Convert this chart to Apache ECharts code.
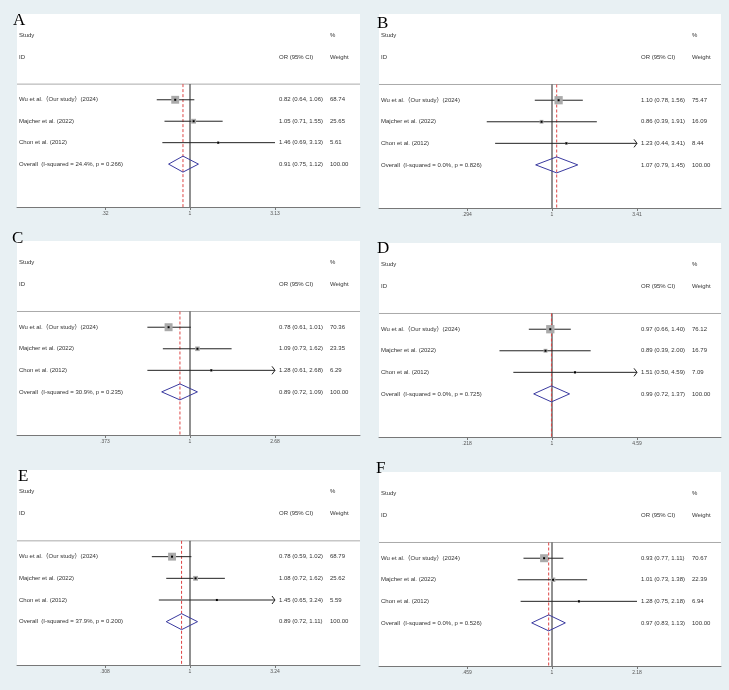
<!DOCTYPE html>
<html><head><meta charset="utf-8">
<script src="https://cdn.jsdelivr.net/npm/echarts@6/dist/echarts.min.js"></script>
<style>html,body{margin:0;padding:0;background:#e8f0f3;}#c{width:729px;height:690px;}</style>
</head><body><div id="c"></div>
<script>
const studies = ['Wu et al.（Our study）(2024)', 'Majcher et al. (2022)', 'Chon et al. (2012)'];
const letters = ['A', 'B', 'C', 'D', 'E', 'F'];

const A_or = [0.82, 1.05, 1.46], A_lo = [0.64, 0.71, 0.69], A_hi = [1.06, 1.55, 3.13], A_wt = [68.74, 25.65, 5.61];
const A_overall = [0.91, 0.75, 1.12], A_i2 = '24.4', A_p = '0.266', A_ticks = ['.32', '1', '3.13'], A_tickMax = 3.13, A_arrow = [0, 0, 0];

const B_or = [1.10, 0.86, 1.23], B_lo = [0.78, 0.39, 0.44], B_hi = [1.56, 1.91, 3.41], B_wt = [75.47, 16.09, 8.44];
const B_overall = [1.07, 0.79, 1.45], B_i2 = '0.0', B_p = '0.826', B_ticks = ['.294', '1', '3.41'], B_tickMax = 3.41, B_arrow = [0, 0, 1];

const C_or = [0.78, 1.09, 1.28], C_lo = [0.61, 0.73, 0.61], C_hi = [1.01, 1.62, 2.68], C_wt = [70.36, 23.35, 6.29];
const C_overall = [0.89, 0.72, 1.09], C_i2 = '30.9', C_p = '0.235', C_ticks = ['.373', '1', '2.68'], C_tickMax = 2.68, C_arrow = [0, 0, 1];

const D_or = [0.97, 0.89, 1.51], D_lo = [0.66, 0.39, 0.50], D_hi = [1.40, 2.00, 4.59], D_wt = [76.12, 16.79, 7.09];
const D_overall = [0.99, 0.72, 1.37], D_i2 = '0.0', D_p = '0.725', D_ticks = ['.218', '1', '4.59'], D_tickMax = 4.59, D_arrow = [0, 0, 1];

const E_or = [0.78, 1.08, 1.45], E_lo = [0.59, 0.72, 0.65], E_hi = [1.02, 1.62, 3.24], E_wt = [68.79, 25.62, 5.59];
const E_overall = [0.89, 0.72, 1.11], E_i2 = '37.9', E_p = '0.200', E_ticks = ['.308', '1', '3.24'], E_tickMax = 3.24, E_arrow = [0, 0, 1];

const F_or = [0.93, 1.01, 1.28], F_lo = [0.77, 0.73, 0.75], F_hi = [1.11, 1.38, 2.18], F_wt = [70.67, 22.39, 6.94];
const F_overall = [0.97, 0.83, 1.13], F_i2 = '0.0', F_p = '0.526', F_ticks = ['.459', '1', '2.18'], F_tickMax = 2.18, F_arrow = [0, 0, 0];

const P = [
  [A_or, A_lo, A_hi, A_wt, A_overall, A_i2, A_p, A_ticks, A_tickMax, A_arrow],
  [B_or, B_lo, B_hi, B_wt, B_overall, B_i2, B_p, B_ticks, B_tickMax, B_arrow],
  [C_or, C_lo, C_hi, C_wt, C_overall, C_i2, C_p, C_ticks, C_tickMax, C_arrow],
  [D_or, D_lo, D_hi, D_wt, D_overall, D_i2, D_p, D_ticks, D_tickMax, D_arrow],
  [E_or, E_lo, E_hi, E_wt, E_overall, E_i2, E_p, E_ticks, E_tickMax, E_arrow],
  [F_or, F_lo, F_hi, F_wt, F_overall, F_i2, F_p, F_ticks, F_tickMax, F_arrow]
].map(a => ({or: a[0], lo: a[1], hi: a[2], wt: a[3], ov: a[4], i2: a[5], p: a[6], ticks: a[7], tmax: a[8], arrow: a[9]}));

// layout (pixels)
const grids = [
  {left: 17, top: 14, width: 343, height: 193},
  {left: 379, top: 14, width: 342, height: 194},
  {left: 17, top: 241, width: 343, height: 194},
  {left: 379, top: 243, width: 342, height: 194},
  {left: 17, top: 470, width: 343, height: 195},
  {left: 379, top: 472, width: 342, height: 194}
];
const letterPos = [[13, 12], [377, 15], [12, 230], [377, 240], [18, 468], [376, 460]];
const ONE_OFFSET = 173, TICK_SPAN = 85;
const COL_EST = 262, COL_WT = 313, COL_LAB = 2;
const HLINE_ROW = 2.27;
const FONT = '6px "Liberation Sans", Arial, "Noto Sans CJK SC", sans-serif';
const TXT = '#333';

const f2 = v => v.toFixed(2);
const ln = Math.log;

function txt(s, x, y) {
  return {type: 'text', style: {text: s, x: x, y: y, font: FONT, fill: TXT, align: 'left', verticalAlign: 'middle'}};
}

const option = {animation: false, grid: [], xAxis: [], yAxis: [], series: [], graphic: []};

P.forEach((pn, i) => {
  const g = grids[i];
  const L = ln(pn.tmax);
  const s = TICK_SPAN / L;
  option.grid.push({left: g.left, top: g.top, width: g.width, height: g.height, show: true, backgroundColor: '#fff', borderWidth: 0});
  const tv = [-L, 0, L];
  option.xAxis.push({
    gridIndex: i, type: 'value', min: -ONE_OFFSET / s, max: (g.width - ONE_OFFSET) / s,
    axisLine: {show: true, onZero: false, lineStyle: {color: '#777', width: 1}},
    axisTick: {show: true, customValues: tv, length: 3, lineStyle: {color: '#777'}},
    axisLabel: {customValues: tv, fontSize: 5, color: '#555', margin: 4, fontFamily: 'Liberation Sans',
      formatter: v => pn.ticks[Math.abs(v) < 1e-9 ? 1 : (v < 0 ? 0 : 2)]},
    splitLine: {show: false}
  });
  option.yAxis.push({gridIndex: i, type: 'value', min: -1, max: 8, inverse: true, show: false});

  // frame: header, rules
  option.series.push({
    type: 'custom', xAxisIndex: i, yAxisIndex: i, z: 1, silent: true,
    data: [[ln(pn.ov[0]), HLINE_ROW]],
    renderItem: (params, api) => {
      const cs = params.coordSys;
      const yh = api.coord([0, HLINE_ROW])[1];
      const yb = api.coord([0, 8])[1];
      const y0 = api.coord([0, 0])[1], y1 = api.coord([0, 1])[1];
      const x1 = api.coord([0, 0])[0];
      const xo = api.coord([api.value(0), 0])[0];
      return {type: 'group', children: [
        {type: 'line', shape: {x1: cs.x, y1: yh, x2: cs.x + cs.width, y2: yh}, style: {stroke: '#aaa', lineWidth: 1}},
        {type: 'line', shape: {x1: x1, y1: yh, x2: x1, y2: yb}, style: {stroke: '#222', lineWidth: 1}},
        {type: 'line', shape: {x1: xo, y1: yh, x2: xo, y2: yb}, style: {stroke: '#d44', lineWidth: 1, lineDash: [3, 2]}},
        txt('Study', cs.x + COL_LAB, y0),
        txt('ID', cs.x + COL_LAB, y1),
        txt('%', cs.x + COL_WT, y0),
        txt('OR (95% CI)', cs.x + COL_EST, y1),
        txt('Weight', cs.x + COL_WT, y1)
      ]};
    }
  });

  // study rows + overall
  const rows = pn.or.map((v, k) => [ln(v), 3 + k, ln(pn.lo[k]), ln(pn.hi[k]), pn.wt[k]]);
  rows.push([ln(pn.ov[0]), 6, ln(pn.ov[1]), ln(pn.ov[2]), 100]);
  option.series.push({
    type: 'custom', xAxisIndex: i, yAxisIndex: i, z: 3, silent: true,
    encode: {x: [0, 2, 3], y: 1},
    data: rows,
    renderItem: (params, api) => {
      const k = params.dataIndex;
      const cs = params.coordSys;
      const c = api.coord([api.value(0), api.value(1)]);
      const xl = api.coord([api.value(2), 0])[0];
      const xh = api.coord([api.value(3), 0])[0];
      const y = c[1];
      const ch = [];
      if (k < 3) {
        const side = 0.95 * Math.sqrt(api.value(4));
        ch.push({type: 'line', shape: {x1: xl, y1: y, x2: xh, y2: y}, style: {stroke: '#222', lineWidth: 1}});
        ch.push({type: 'rect', shape: {x: c[0] - side / 2, y: y - side / 2, width: side, height: side}, style: {fill: '#aaa'}});
        ch.push({type: 'rect', shape: {x: c[0] - 1, y: y - 1, width: 2, height: 2}, style: {fill: '#000'}});
        if (pn.arrow[k]) {
          ch.push({type: 'polyline', shape: {points: [[xh - 3, y - 4], [xh, y], [xh - 3, y + 4]]}, style: {stroke: '#222', lineWidth: 1, fill: null}});
        }
        ch.push(txt(studies[k], cs.x + COL_LAB, y));
        ch.push(txt(f2(pn.or[k]) + ' (' + f2(pn.lo[k]) + ', ' + f2(pn.hi[k]) + ')', cs.x + COL_EST, y));
        ch.push(txt(f2(pn.wt[k]), cs.x + COL_WT, y));
      } else {
        ch.push({type: 'polygon', shape: {points: [[xl, y], [c[0], y - 8], [xh, y], [c[0], y + 8]]}, style: {fill: null, stroke: '#3a3aa0', lineWidth: 1}});
        ch.push(txt('Overall  (I-squared = ' + pn.i2 + '%, p = ' + pn.p + ')', cs.x + COL_LAB, y));
        ch.push(txt(f2(pn.ov[0]) + ' (' + f2(pn.ov[1]) + ', ' + f2(pn.ov[2]) + ')', cs.x + COL_EST, y));
        ch.push(txt('100.00', cs.x + COL_WT, y));
      }
      return {type: 'group', children: ch};
    }
  });

  option.graphic.push({type: 'text', left: letterPos[i][0], top: letterPos[i][1], z: 100,
    style: {text: letters[i], font: '17px "Liberation Serif", "Times New Roman", serif', fill: '#000'}});
});

const chart = echarts.init(document.getElementById('c'));
chart.setOption(option);
</script></body></html>
